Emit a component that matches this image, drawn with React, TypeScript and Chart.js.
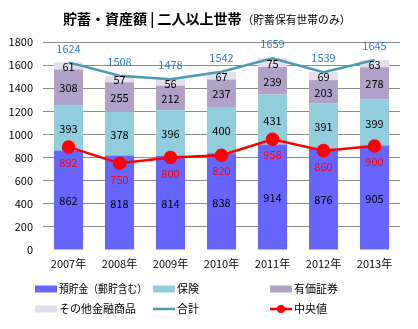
import React, { useEffect, useRef } from "react";
import { Chart, registerables } from "chart.js";

Chart.register(...registerables);

const years = ["2007年", "2008年", "2009年", "2010年", "2011年", "2012年", "2013年"];
const deposits = [862, 818, 814, 838, 914, 876, 905];
const insurance = [393, 378, 396, 400, 431, 391, 399];
const securities = [308, 255, 212, 237, 239, 203, 278];
const others = [61, 57, 56, 67, 75, 69, 63];
const totals = [1624, 1508, 1478, 1542, 1659, 1539, 1645];
const medians = [892, 750, 800, 820, 958, 860, 900];
const yTicks = [0, 200, 400, 600, 800, 1000, 1200, 1400, 1600, 1800];

const FONT = "'Noto Sans CJK JP', 'Noto Sans', sans-serif";

const labelsPlugin = {
  id: "valueLabels",
  afterDatasetsDraw(chart: any) {
    const ctx = chart.ctx;
    ctx.save();
    ctx.font = `11px ${FONT}`;
    ctx.textAlign = "center";
    ctx.textBaseline = "middle";
    chart.data.datasets.forEach((ds: any, i: number) => {
      const meta = chart.getDatasetMeta(i);
      meta.data.forEach((el: any, j: number) => {
        const v = ds.data[j];
        if (ds.type === "bar") {
          ctx.fillStyle = "#000";
          ctx.fillText(String(v), el.x, (el.y + el.base) / 2 + 1);
        } else if (ds.label === "合計") {
          ctx.fillStyle = "#2e7fd0";
          ctx.fillText(String(v), el.x, el.y - 14);
        } else {
          ctx.fillStyle = "#ff0000";
          ctx.fillText(String(v), el.x, el.y + 16);
        }
      });
    });
    ctx.restore();
  },
};

const titleLegendPlugin = {
  id: "titleLegend",
  afterDraw(chart: any) {
    const ctx = chart.ctx;
    ctx.save();
    ctx.textBaseline = "middle";
    ctx.textAlign = "left";
    ctx.fillStyle = "#000";
    const t1 = "貯蓄・資産額 | 二人以上世帯";
    ctx.font = `bold 14px ${FONT}`;
    ctx.fillText(t1, 63, 19);
    const w1 = ctx.measureText(t1).width;
    ctx.font = `11px ${FONT}`;
    ctx.fillText("（貯蓄保有世帯のみ）", 63 + w1 + 1, 20, 108);

    const cols = [35, 153, 270];
    const rows = [289, 309];
    ctx.font = `11px ${FONT}`;
    chart.data.datasets.forEach((ds: any, i: number) => {
      const x = cols[i % 3];
      const y = rows[Math.floor(i / 3)];
      if (ds.type === "bar") {
        ctx.fillStyle = ds.backgroundColor;
        ctx.fillRect(x, y - 3.5, 22, 7);
      } else {
        ctx.strokeStyle = ds.borderColor;
        ctx.lineWidth = ds.borderWidth;
        ctx.beginPath();
        ctx.moveTo(x, y);
        ctx.lineTo(x + 22, y);
        ctx.stroke();
        if (ds.pointRadius > 0) {
          ctx.fillStyle = ds.pointBackgroundColor;
          ctx.beginPath();
          ctx.arc(x + 11, y, 4, 0, Math.PI * 2);
          ctx.fill();
        }
      }
      ctx.fillStyle = "#000";
      ctx.fillText(ds.label, x + 24, y, 88);
    });
    ctx.restore();
  },
};

export default function App() {
  const ref = useRef<HTMLCanvasElement>(null);
  useEffect(() => {
    document.body.style.margin = "0";
    const chart = new Chart(ref.current!, {
      type: "bar",
      data: {
        labels: years,
        datasets: [
          { type: "bar", label: "預貯金（郵貯含む）", data: deposits, backgroundColor: "#6666ff", stack: "s", order: 3 },
          { type: "bar", label: "保険", data: insurance, backgroundColor: "#92cddc", stack: "s", order: 3 },
          { type: "bar", label: "有価証券", data: securities, backgroundColor: "#b1a0c7", stack: "s", order: 3 },
          { type: "bar", label: "その他金融商品", data: others, backgroundColor: "#e4dfec", stack: "s", order: 3 },
          { type: "line", label: "合計", data: totals, borderColor: "#4a9bb0", borderWidth: 2.5, pointRadius: 0, stack: "t", order: 2, tension: 0 } as any,
          { type: "line", label: "中央値", data: medians, borderColor: "#ff0000", borderWidth: 2.5, pointRadius: 5.5, pointBackgroundColor: "#ff0000", pointBorderColor: "#ff0000", stack: "m", order: 1, tension: 0 } as any,
        ],
      } as any,
      options: {
        animation: false,
        responsive: false,
        maintainAspectRatio: false,
        layout: { padding: { top: 42, right: 18, left: 0, bottom: 0 } },
        datasets: { bar: { barPercentage: 0.57, categoryPercentage: 1 } },
        plugins: { legend: { display: false }, tooltip: { enabled: false }, title: { display: false } },
        scales: {
          x: {
            stacked: true,
            grid: { display: false, drawTicks: false },
            border: { display: false },
            ticks: { color: "#000", font: { family: FONT, size: 11 }, padding: 7, maxRotation: 0 },
            afterFit(scale: any) { scale.height = 79; },
          },
          y: {
            stacked: true,
            min: 0,
            max: 1800,
            afterBuildTicks(scale: any) { scale.ticks = yTicks.map((v) => ({ value: v })); },
            grid: {
              drawTicks: false,
              color: (c: any) => (c.tick && c.tick.value === 0 ? "rgba(0,0,0,0)" : "#8c8c8c"),
              lineWidth: 1,
            },
            border: { display: false },
            ticks: { color: "#000", font: { family: FONT, size: 11 }, padding: 10, callback: (v: any) => String(v) },
            afterFit(scale: any) { scale.width = 43; },
          },
        },
      } as any,
      plugins: [labelsPlugin, titleLegendPlugin],
    });
    return () => chart.destroy();
  }, []);
  return <canvas ref={ref} width={418} height={329} style={{ display: "block" }} />;
}
